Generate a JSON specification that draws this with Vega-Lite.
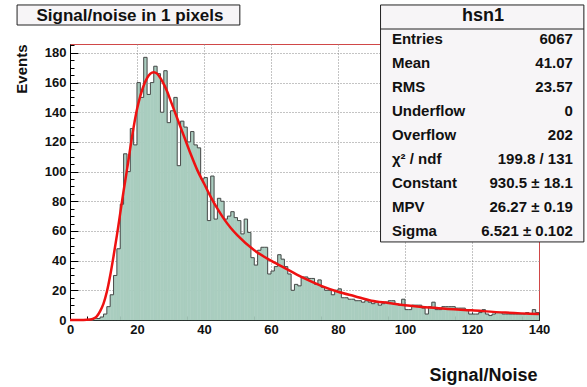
{
  "$schema": "https://vega.github.io/schema/vega-lite/v6.json",
  "width": 469,
  "height": 276,
  "autosize": {"type": "none"},
  "padding": {"left": 70, "top": 44, "right": 48, "bottom": 67},
  "background": "white",
  "config": {"view": {"stroke": "#d04848", "strokeWidth": 1}, "font": "Liberation Sans"},
  "datasets": {
    "bins": [
      {"lo":0,"hi":1,"n":0},{"lo":1,"hi":2,"n":0},{"lo":2,"hi":3,"n":0},{"lo":3,"hi":4,"n":0},{"lo":4,"hi":5,"n":0},
      {"lo":5,"hi":6,"n":0},{"lo":6,"hi":7,"n":0},{"lo":7,"hi":8,"n":1},{"lo":8,"hi":9,"n":1},{"lo":9,"hi":10,"n":2},
      {"lo":10,"hi":11,"n":4},{"lo":11,"hi":12,"n":9},{"lo":12,"hi":13,"n":17},{"lo":13,"hi":14,"n":30},{"lo":14,"hi":15,"n":48},
      {"lo":15,"hi":16,"n":78},{"lo":16,"hi":17,"n":112},{"lo":17,"hi":18,"n":100},{"lo":18,"hi":19,"n":129},{"lo":19,"hi":20,"n":118},
      {"lo":20,"hi":21,"n":160},{"lo":21,"hi":22,"n":150},{"lo":22,"hi":23,"n":177},{"lo":23,"hi":24,"n":152},{"lo":24,"hi":25,"n":160},
      {"lo":25,"hi":26,"n":171},{"lo":26,"hi":27,"n":166},{"lo":27,"hi":28,"n":140},{"lo":28,"hi":29,"n":168},{"lo":29,"hi":30,"n":133},
      {"lo":30,"hi":31,"n":141},{"lo":31,"hi":32,"n":150},{"lo":32,"hi":33,"n":104},{"lo":33,"hi":34,"n":134},{"lo":34,"hi":35,"n":130},
      {"lo":35,"hi":36,"n":120},{"lo":36,"hi":37,"n":127},{"lo":37,"hi":38,"n":118},{"lo":38,"hi":39,"n":116},{"lo":39,"hi":40,"n":95},
      {"lo":40,"hi":41,"n":96},{"lo":41,"hi":42,"n":67},{"lo":42,"hi":43,"n":97},{"lo":43,"hi":44,"n":68},{"lo":44,"hi":45,"n":82},
      {"lo":45,"hi":46,"n":80},{"lo":46,"hi":47,"n":68},{"lo":47,"hi":48,"n":70},{"lo":48,"hi":49,"n":73},{"lo":49,"hi":50,"n":69},
      {"lo":50,"hi":51,"n":67},{"lo":51,"hi":52,"n":58},{"lo":52,"hi":53,"n":68},{"lo":53,"hi":54,"n":59},{"lo":54,"hi":55,"n":42},
      {"lo":55,"hi":56,"n":37},{"lo":56,"hi":57,"n":47},{"lo":57,"hi":58,"n":49},{"lo":58,"hi":59,"n":49},{"lo":59,"hi":60,"n":31},
      {"lo":60,"hi":61,"n":33},{"lo":61,"hi":62,"n":36},{"lo":62,"hi":63,"n":44},{"lo":63,"hi":64,"n":41},{"lo":64,"hi":65,"n":36},
      {"lo":65,"hi":66,"n":31},{"lo":66,"hi":67,"n":20},{"lo":67,"hi":68,"n":24},{"lo":68,"hi":69,"n":23},{"lo":69,"hi":70,"n":29},
      {"lo":70,"hi":71,"n":29},{"lo":71,"hi":72,"n":28},{"lo":72,"hi":73,"n":28},{"lo":73,"hi":74,"n":24},{"lo":74,"hi":75,"n":27},
      {"lo":75,"hi":76,"n":22},{"lo":76,"hi":77,"n":20},{"lo":77,"hi":78,"n":20},{"lo":78,"hi":79,"n":17},{"lo":79,"hi":80,"n":20},
      {"lo":80,"hi":81,"n":21},{"lo":81,"hi":82,"n":15},{"lo":82,"hi":83,"n":15},{"lo":83,"hi":84,"n":14},{"lo":84,"hi":85,"n":14},
      {"lo":85,"hi":86,"n":13},{"lo":86,"hi":87,"n":13},{"lo":87,"hi":88,"n":12},{"lo":88,"hi":89,"n":13},{"lo":89,"hi":90,"n":12},
      {"lo":90,"hi":91,"n":11},{"lo":91,"hi":92,"n":12},{"lo":92,"hi":93,"n":10},{"lo":93,"hi":94,"n":11},{"lo":94,"hi":95,"n":12},
      {"lo":95,"hi":96,"n":13},{"lo":96,"hi":97,"n":13},{"lo":97,"hi":98,"n":11},{"lo":98,"hi":99,"n":10},{"lo":99,"hi":100,"n":14},
      {"lo":100,"hi":101,"n":7},{"lo":101,"hi":102,"n":7},{"lo":102,"hi":103,"n":10},{"lo":103,"hi":104,"n":10},{"lo":104,"hi":105,"n":10},
      {"lo":105,"hi":106,"n":8},{"lo":106,"hi":107,"n":4},{"lo":107,"hi":108,"n":9},{"lo":108,"hi":109,"n":12},{"lo":109,"hi":110,"n":7},
      {"lo":110,"hi":111,"n":7},{"lo":111,"hi":112,"n":9},{"lo":112,"hi":113,"n":9},{"lo":113,"hi":114,"n":9},{"lo":114,"hi":115,"n":9},
      {"lo":115,"hi":116,"n":8},{"lo":116,"hi":117,"n":8},{"lo":117,"hi":118,"n":8},{"lo":118,"hi":119,"n":7},{"lo":119,"hi":120,"n":4},
      {"lo":120,"hi":121,"n":4},{"lo":121,"hi":122,"n":4},{"lo":122,"hi":123,"n":5},{"lo":123,"hi":124,"n":7},{"lo":124,"hi":125,"n":4},
      {"lo":125,"hi":126,"n":3},{"lo":126,"hi":127,"n":4},{"lo":127,"hi":128,"n":5},{"lo":128,"hi":129,"n":5},{"lo":129,"hi":130,"n":4},
      {"lo":130,"hi":131,"n":4},{"lo":131,"hi":132,"n":4},{"lo":132,"hi":133,"n":4},{"lo":133,"hi":134,"n":4},{"lo":134,"hi":135,"n":4},
      {"lo":135,"hi":136,"n":4},{"lo":136,"hi":137,"n":5},{"lo":137,"hi":138,"n":4},{"lo":138,"hi":139,"n":7},{"lo":139,"hi":140,"n":5}
    ],
    "fit": [
      {"x":0,"y":0},{"x":4,"y":0},{"x":6,"y":0.3},{"x":7,"y":1},{"x":8,"y":2.5},{"x":9,"y":6},{"x":10,"y":11},
      {"x":11,"y":19},{"x":12,"y":30},{"x":13,"y":43},{"x":14,"y":57},{"x":15,"y":72},{"x":16,"y":87},{"x":17,"y":101},
      {"x":18,"y":116},{"x":19,"y":130},{"x":20,"y":142},{"x":21,"y":151},{"x":22,"y":158},{"x":23,"y":163},{"x":24,"y":166},
      {"x":25,"y":167},{"x":26,"y":166},{"x":27,"y":163},{"x":28,"y":159},{"x":29,"y":154},{"x":30,"y":148},{"x":32,"y":136},
      {"x":34,"y":124},{"x":36,"y":112},{"x":38,"y":101},{"x":40,"y":92},{"x":42,"y":83},{"x":44,"y":75},{"x":46,"y":68},
      {"x":48,"y":62},{"x":50,"y":57},{"x":55,"y":47},{"x":60,"y":40},{"x":65,"y":34},{"x":70,"y":28},{"x":75,"y":23},
      {"x":80,"y":19},{"x":85,"y":16},{"x":90,"y":13},{"x":95,"y":11.5},{"x":100,"y":10},{"x":110,"y":8},{"x":120,"y":6.5},
      {"x":130,"y":5},{"x":140,"y":4}
    ],
    "stats": [
      {"row":1,"label":"Entries","value":"6067"},
      {"row":2,"label":"Mean","value":"41.07"},
      {"row":3,"label":"RMS","value":"23.57"},
      {"row":4,"label":"Underflow","value":"0"},
      {"row":5,"label":"Overflow","value":"202"},
      {"row":6,"label":"χ² / ndf","value":"199.8 / 131"},
      {"row":7,"label":"Constant","value":"930.5 ± 18.1"},
      {"row":8,"label":"MPV","value":"26.27 ± 0.19"},
      {"row":9,"label":"Sigma","value":"6.521 ± 0.102"}
    ]
  },
  "layer": [
    {
      "data": {"name": "bins"},
      "mark": {"type": "rect", "fill": "#a9cdbf", "stroke": "#a9cdbf", "strokeWidth": 0.5},
      "encoding": {
        "x": {"field": "lo", "type": "quantitative", "scale": {"domain": [0, 140], "nice": false},
          "title": "Signal/Noise",
          "axis": {
            "values": [0,5,10,15,20,25,30,35,40,45,50,55,60,65,70,75,80,85,90,95,100,105,110,115,120,125,130,135,140],
            "tickCount": 60,
            "labelExpr": "datum.value % 20 === 0 ? datum.label : ''",
            "labelOverlap": false, "labelFlush": false,
            "tickSize": {"condition": {"test": "datum.value % 20 === 0", "value": -8}, "value": -4},
            "tickColor": "black", "domainColor": "black",
            "grid": true, "gridDash": [1, 2], "gridColor": "#888",
            "gridOpacity": {"condition": {"test": "datum.value % 20 === 0 && datum.value > 0 && datum.value < 140", "value": 1}, "value": 0},
            "labelFont": "Liberation Sans", "labelFontWeight": "bold", "labelFontSize": 13, "labelColor": "#111",
            "labelPadding": 11,
            "titleFont": "Liberation Sans", "titleFontSize": 18, "titleFontWeight": "bold", "titleColor": "#111",
            "titleX": 467, "titleY": 60, "titleAlign": "right", "titleBaseline": "alphabetic", "titleAnchor": "end"
          }
        },
        "x2": {"field": "hi"},
        "y": {"field": "n", "type": "quantitative", "scale": {"domain": [0, 186], "nice": false},
          "title": "Events",
          "axis": {
            "values": [0,5,10,15,20,25,30,35,40,45,50,55,60,65,70,75,80,85,90,95,100,105,110,115,120,125,130,135,140,145,150,155,160,165,170,175,180,185],
            "tickCount": 60,
            "labelExpr": "datum.value % 20 === 0 ? datum.label : ''",
            "labelOverlap": false, "labelFlush": false,
            "tickSize": {"condition": {"test": "datum.value % 20 === 0", "value": -8}, "value": -4},
            "tickColor": "black", "domainColor": "black",
            "grid": true, "gridDash": [1, 2], "gridColor": "#888",
            "gridOpacity": {"condition": {"test": "datum.value % 20 === 0 && datum.value > 0", "value": 1}, "value": 0},
            "labelFont": "Liberation Sans", "labelFontWeight": "bold", "labelFontSize": 13, "labelColor": "#111",
            "labelPadding": 12,
            "titleFont": "Liberation Sans", "titleFontSize": 15, "titleFontWeight": "bold", "titleColor": "#111",
            "titleAngle": -90, "titleX": -49, "titleY": 0, "titleAlign": "right", "titleBaseline": "middle", "titleAnchor": "end"
          }
        },
        "y2": {"datum": 0}
      }
    },
    {
      "data": {"name": "bins"},
      "mark": {"type": "rule", "color": "#4a4a4a", "strokeWidth": 1},
      "encoding": {
        "x": {"field": "lo", "type": "quantitative"},
        "x2": {"field": "hi"},
        "y": {"field": "n", "type": "quantitative"}
      }
    },
    {
      "data": {"name": "bins"},
      "transform": [{"window": [{"op": "lag", "field": "n", "as": "prev"}], "sort": [{"field": "lo"}]}],
      "mark": {"type": "rule", "color": "#4a4a4a", "strokeWidth": 1},
      "encoding": {
        "x": {"field": "lo", "type": "quantitative"},
        "y": {"field": "prev", "type": "quantitative"},
        "y2": {"field": "n"}
      }
    },
    {
      "data": {"name": "fit"},
      "mark": {"type": "line", "color": "#ee1111", "strokeWidth": 2.5, "interpolate": "monotone"},
      "encoding": {
        "x": {"field": "x", "type": "quantitative"},
        "y": {"field": "y", "type": "quantitative"}
      }
    },
    {
      "data": {"values": [{}]},
      "mark": {"type": "rect", "fill": "#555", "xOffset": 2, "yOffset": 2},
      "encoding": {
        "x": {"datum": 92.7, "type": "quantitative"},
        "x2": {"datum": 153.4},
        "y": {"datum": 212.3, "type": "quantitative"},
        "y2": {"datum": 52.6}
      }
    },
    {
      "data": {"values": [{}]},
      "mark": {"type": "rect", "fill": "#f7f5f7", "stroke": "#222", "strokeWidth": 1},
      "encoding": {
        "x": {"datum": 92.7, "type": "quantitative"},
        "x2": {"datum": 153.4},
        "y": {"datum": 212.3, "type": "quantitative"},
        "y2": {"datum": 52.6}
      }
    },
    {
      "data": {"values": [{}]},
      "mark": {"type": "rule", "color": "#222", "strokeWidth": 1},
      "encoding": {
        "x": {"datum": 92.7, "type": "quantitative"},
        "x2": {"datum": 153.4},
        "y": {"datum": 196.1, "type": "quantitative"}
      }
    },
    {
      "data": {"values": [{"name": "hsn1"}]},
      "mark": {"type": "text", "font": "Liberation Sans", "fontWeight": "bold", "fontSize": 18, "align": "center", "baseline": "middle", "color": "#111"},
      "encoding": {
        "x": {"datum": 123.3, "type": "quantitative"},
        "y": {"datum": 204.8, "type": "quantitative"},
        "text": {"field": "name"}
      }
    },
    {
      "data": {"name": "stats"},
      "mark": {"type": "text", "font": "Liberation Sans", "fontWeight": "bold", "fontSize": 15, "align": "left", "baseline": "middle", "color": "#111"},
      "encoding": {
        "x": {"datum": 96.1, "type": "quantitative"},
        "y": {"datum": 205.5, "type": "quantitative"},
        "yOffset": {"field": "row", "type": "quantitative", "scale": {"domain": [0, 9], "range": [0, 216]}},
        "text": {"field": "label"}
      }
    },
    {
      "data": {"name": "stats"},
      "mark": {"type": "text", "font": "Liberation Sans", "fontWeight": "bold", "fontSize": 15, "align": "right", "baseline": "middle", "color": "#111"},
      "encoding": {
        "x": {"datum": 150.1, "type": "quantitative"},
        "y": {"datum": 205.5, "type": "quantitative"},
        "yOffset": {"field": "row", "type": "quantitative", "scale": {"domain": [0, 9], "range": [0, 216]}},
        "text": {"field": "value"}
      }
    },
    {
      "data": {"values": [{}]},
      "mark": {"type": "rect", "fill": "#555", "xOffset": 2, "yOffset": 2},
      "encoding": {
        "x": {"datum": -15.8, "type": "quantitative"},
        "x2": {"datum": 50.7},
        "y": {"datum": 212.3, "type": "quantitative"},
        "y2": {"datum": 198.8}
      }
    },
    {
      "data": {"values": [{}]},
      "mark": {"type": "rect", "fill": "#f7f5f7", "stroke": "#222", "strokeWidth": 1},
      "encoding": {
        "x": {"datum": -15.8, "type": "quantitative"},
        "x2": {"datum": 50.7},
        "y": {"datum": 212.3, "type": "quantitative"},
        "y2": {"datum": 198.8}
      }
    },
    {
      "data": {"values": [{"name": "Signal/noise in 1 pixels"}]},
      "mark": {"type": "text", "font": "Liberation Sans", "fontWeight": "bold", "fontSize": 17, "align": "center", "baseline": "middle", "color": "#111"},
      "encoding": {
        "x": {"datum": 17.9, "type": "quantitative"},
        "y": {"datum": 204.9, "type": "quantitative"},
        "text": {"field": "name"}
      }
    }
  ]
}
